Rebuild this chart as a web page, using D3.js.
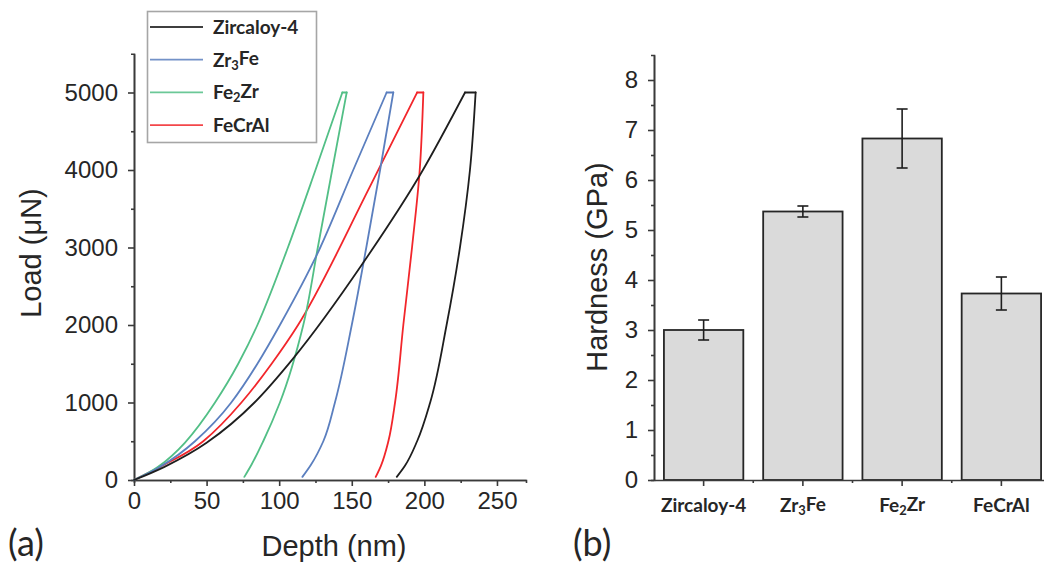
<!DOCTYPE html>
<html>
<head>
<meta charset="utf-8">
<script src="https://d3js.org/d3.v7.min.js"></script>
<style>
    html, body { margin: 0; padding: 0; background: white; }
    svg { display: block; }
    .tick text { font-family: "Liberation Sans", Arial, sans-serif; font-size: 24px; fill: #262626; }
    .axis path, .axis line { stroke: #3a3a3a; stroke-width: 1.6; }
    .title { font-family: "Liberation Sans", Arial, sans-serif; font-size: 29px; fill: #262626; }
    text.lab, .tick text.lab { font-family: Lato, "Open Sans", sans-serif; font-weight: bold; font-size: 19px; fill: #262626; }
    .panel { font-family: Lato, "Open Sans", sans-serif; font-size: 36px; fill: #262626; }
</style>
</head>
<body>
<svg width="1044" height="564"></svg>
<script>
// (a) load-depth curves, points read as [depth nm, load uN]
var materials = ["Zircaloy-4", "Zr3Fe", "Fe2Zr", "FeCrAl"];
var lineColors = ["#1e1e1e", "#5b7fbf", "#52bf86", "#f2262b"];

var loading = [
    [[0, 0], [21, 170], [50, 480], [83, 1000], [109.7, 1570], [156.8, 2774], [199, 4000], [228, 5000]],
    [[0, 0], [18, 170], [42, 500], [67, 1000], [85, 1500], [100.5, 2000], [128.3, 3000], [151, 4000], [174, 5000]],
    [[0, 0], [16.6, 170], [35, 480], [55.8, 1000], [71.8, 1500], [85, 2000], [106, 3000], [125, 4000], [143.5, 5000]],
    [[0, 0], [18, 170], [47.7, 500], [74, 1000], [94.8, 1500], [113, 2000], [162.5, 3785], [195, 5000]]
];
var unloading = [
    [[235.3, 5000], [231.4, 4000], [224.5, 3000], [215.3, 2000], [204, 1000], [195, 500], [186.5, 180], [181, 40]],
    [[178.6, 5000], [169.5, 4000], [160, 3000], [150, 2000], [138.4, 1000], [130.4, 500], [122, 200], [116, 40]],
    [[146.5, 5000], [136.5, 4000], [126.6, 3000], [116.6, 2000], [100.5, 1000], [89, 500], [81, 200], [76, 40]],
    [[199.3, 5000], [196.8, 4000], [191.5, 3000], [185.5, 2000], [179.8, 1000], [175.2, 500], [170, 180], [166.5, 40]]
];
var depthTicks = [0, 50, 100, 150, 200, 250];
var loadTicks = [0, 1000, 2000, 3000, 4000, 5000];

// (b) hardness
var hardness = [3.0, 5.37, 6.83, 3.73];
var hardnessErr = [0.2, 0.11, 0.59, 0.33];
var hardTicks = [0, 1, 2, 3, 4, 5, 6, 7, 8];

var svg = d3.select("svg");

// label with subscripts: Zr3Fe -> Zr<sub>3</sub>Fe
function richLabel (sel, name) {
    var parts = name.match(/[A-Za-z\-]+|\d+/g);
    if (name === "Zircaloy-4") parts = [name];
    sel.text(null);
    parts.forEach(function (p, i) {
        var isSub = /^\d+$/.test(p);
        var prevSub = i > 0 && /^\d+$/.test(parts[i - 1]);
        var t = sel.append("tspan").text(p);
        if (isSub) t.attr("font-size", "0.68em").attr("dy", "0.22em");
        else if (prevSub) t.attr("dy", "-0.22em");
    });
}

//////////////////////
// panel (a)
var x = d3.scaleLinear().domain([0, 270]).range([134, 526]);
var y = d3.scaleLinear().domain([0, 5500]).range([480, 53.75]);

svg.append("g").attr("class", "axis")
    .attr("transform", "translate(0,480)")
    .call(d3.axisBottom(x).tickValues(d3.range(25, 270, 50)).tickSize(3).tickFormat(""));
svg.append("g").attr("class", "axis")
    .attr("transform", "translate(134,0)")
    .call(d3.axisLeft(y).tickValues(d3.range(500, 5500, 1000)).tickSize(3).tickFormat(""));

svg.append("g").attr("class", "axis")
    .attr("transform", "translate(0,480)")
    .call(d3.axisBottom(x).tickValues(depthTicks).tickSize(6).tickPadding(6).tickSizeOuter(0));
svg.append("g").attr("class", "axis")
    .attr("transform", "translate(134,0)")
    .call(d3.axisLeft(y).tickValues(loadTicks).tickSize(6).tickPadding(10).tickSizeOuter(0)
        .tickFormat(d3.format("d")));

var lineLoad = d3.line().x(function (d) { return x(d[0]); }).y(function (d) { return y(d[1]); })
    .curve(d3.curveMonotoneX);
var lineUnload = d3.line().x(function (d) { return x(d[0]); }).y(function (d) { return y(d[1]); })
    .curve(d3.curveMonotoneY);

var curves = svg.append("g").attr("fill", "none").attr("stroke-width", 1.8)
    .attr("stroke-linejoin", "round").attr("stroke-linecap", "round");

// draw back to front: FeCrAl, Fe2Zr, Zr3Fe, Zircaloy
[3, 2, 1, 0].forEach(function (i) {
    var g = curves.append("g").attr("stroke", lineColors[i]);
    g.append("path").attr("d", lineLoad(loading[i]));
    var top = loading[i][loading[i].length - 1];
    g.append("path").attr("d", d3.line()([[x(top[0]), y(top[1])], [x(unloading[i][0][0]), y(5000)]]));
    g.append("path").attr("d", lineUnload(unloading[i]));
});

// legend
var legend = svg.append("g");
legend.append("rect")
    .attr("x", 147.5).attr("y", 11.5).attr("width", 169).attr("height", 131)
    .attr("fill", "white").attr("stroke", "#a6a6a6").attr("stroke-width", 1.6);
materials.forEach(function (m, i) {
    var ly = 27 + i * 32.7;
    legend.append("line")
        .attr("x1", 150).attr("x2", 203).attr("y1", ly).attr("y2", ly)
        .attr("stroke", lineColors[i]).attr("stroke-width", 1.8).attr("opacity", 0.85);
    legend.append("text").attr("class", "lab")
        .attr("x", 213).attr("y", ly + 7)
        .call(richLabel, m);
});

svg.append("text").attr("class", "title")
    .attr("x", 334).attr("y", 556).attr("text-anchor", "middle")
    .text("Depth (nm)");
svg.append("text").attr("class", "title")
    .attr("transform", "translate(41,253) rotate(-90)").attr("text-anchor", "middle")
    .text("Load (\u03bcN)");
svg.append("text").attr("class", "panel").attr("x", 8).attr("y", 556).text("(a)");

//////////////////////
// panel (b)
var xb = d3.scaleBand().domain(materials).range([654, 1051]).paddingInner(0.2).paddingOuter(0.1);
var yb = d3.scaleLinear().domain([0, 8.5]).range([480, 55]);

svg.append("g").attr("class", "axis")
    .attr("transform", "translate(654,0)")
    .call(d3.axisLeft(yb).tickValues(d3.range(0.5, 8.5, 1)).tickSize(3).tickFormat(""));
svg.append("g").attr("class", "axis")
    .attr("transform", "translate(654,0)")
    .call(d3.axisLeft(yb).tickValues(hardTicks).tickSize(6).tickPadding(10).tickSizeOuter(0));

var bars = svg.append("g");
bars.selectAll("rect")
    .data(hardness)
    .enter().append("rect")
    .attr("x", function (d, i) { return xb(materials[i]); })
    .attr("y", function (d) { return yb(d); })
    .attr("width", xb.bandwidth())
    .attr("height", function (d) { return yb(0) - yb(d); })
    .attr("fill", "#dadada").attr("stroke", "#262626").attr("stroke-width", 1.8);

var err = svg.append("g").attr("stroke", "#1e1e1e").attr("stroke-width", 1.6);
hardness.forEach(function (h, i) {
    var cx = xb(materials[i]) + xb.bandwidth() / 2;
    err.append("line").attr("x1", cx).attr("x2", cx)
        .attr("y1", yb(h + hardnessErr[i])).attr("y2", yb(h - hardnessErr[i]));
    [h + hardnessErr[i], h - hardnessErr[i]].forEach(function (v) {
        err.append("line").attr("x1", cx - 5.5).attr("x2", cx + 5.5)
            .attr("y1", yb(v)).attr("y2", yb(v));
    });
});

var xAxisB = svg.append("g").attr("class", "axis")
    .attr("transform", "translate(0,480)")
    .call(d3.axisBottom(xb).tickSize(6).tickPadding(8).tickSizeOuter(0));
xAxisB.selectAll(".tick text")
    .attr("class", "lab").attr("dy", "0.95em")
    .each(function (d) { d3.select(this).call(richLabel, d); });

// small ticks between bars
var between = materials.slice(1).map(function (m) { return xb(m) - xb.step() * xb.paddingInner() / 2; });
svg.append("g").selectAll("line").data(between).enter().append("line")
    .attr("x1", function (d) { return d; }).attr("x2", function (d) { return d; })
    .attr("y1", 480).attr("y2", 483).attr("stroke", "#3a3a3a").attr("stroke-width", 1.6);

svg.append("text").attr("class", "title")
    .attr("transform", "translate(607,267) rotate(-90)").attr("text-anchor", "middle")
    .text("Hardness (GPa)");
svg.append("text").attr("class", "panel").attr("x", 573).attr("y", 556).text("(b)");
</script>
</body>
</html>
